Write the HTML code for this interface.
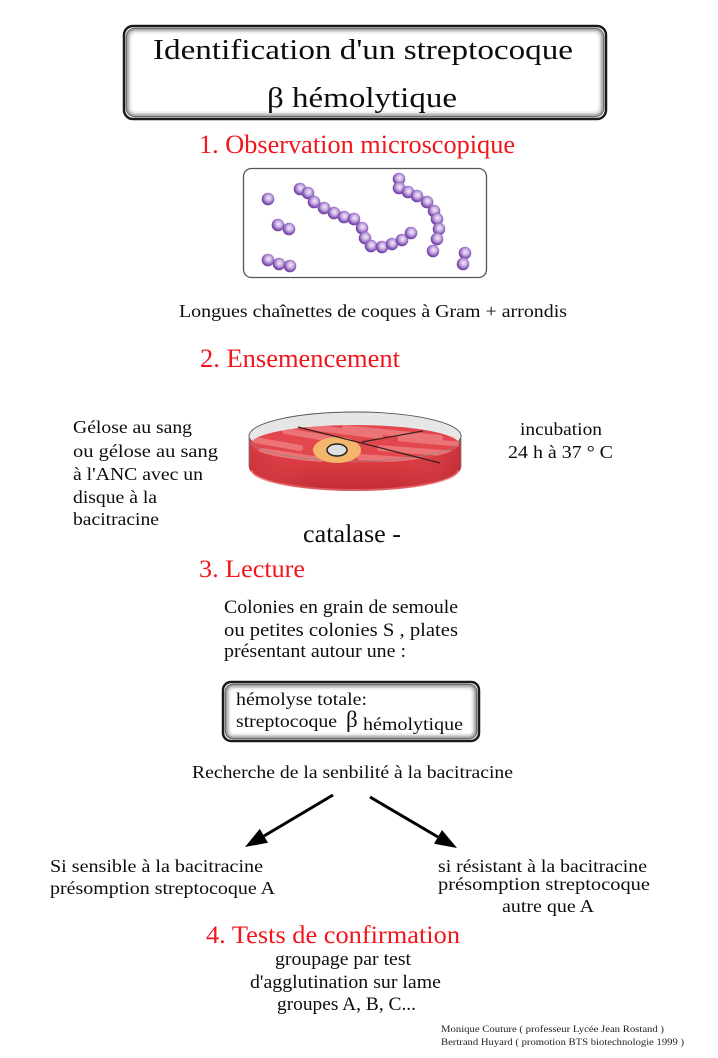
<!DOCTYPE html>
<html>
<head>
<meta charset="utf-8">
<style>
  html,body{margin:0;padding:0;background:#fff;}
  svg{display:block;}
  text{font-family:"Liberation Serif","DejaVu Serif",serif;}
</style>
</head>
<body>
<svg width="718" height="1058" viewBox="0 0 718 1058" xmlns="http://www.w3.org/2000/svg">
  <defs>
    <radialGradient id="coc" cx="55%" cy="42%" r="62%">
      <stop offset="0" stop-color="#f3ecf9"/>
      <stop offset="0.4" stop-color="#c8aee2"/>
      <stop offset="0.8" stop-color="#7c4bb0"/>
      <stop offset="1" stop-color="#5e3290"/>
    </radialGradient>
    <linearGradient id="dishSide" x1="0" y1="0" x2="0" y2="1">
      <stop offset="0" stop-color="#e0464c"/>
      <stop offset="0.5" stop-color="#d8383f"/>
      <stop offset="1" stop-color="#c22d35"/>
    </linearGradient>
    <linearGradient id="dishSideH" x1="0" y1="0" x2="1" y2="0">
      <stop offset="0" stop-color="#c8323a" stop-opacity="0.6"/>
      <stop offset="0.3" stop-color="#e85a5e" stop-opacity="0"/>
      <stop offset="0.7" stop-color="#e85a5e" stop-opacity="0"/>
      <stop offset="1" stop-color="#b82a32" stop-opacity="0.6"/>
    </linearGradient>
    <clipPath id="agarClip">
      <ellipse cx="355" cy="444" rx="104" ry="19"/>
    </clipPath>
  </defs>

  <!-- Title box -->
  <rect x="124" y="26" width="482" height="93" rx="9" ry="9" fill="#fff" stroke="#1a1a1a" stroke-width="2.5"/>
  <rect x="126.5" y="28.5" width="477" height="88" rx="8" ry="8" fill="none" stroke="#707070" stroke-width="1.5"/>
  <rect x="128" y="30" width="474" height="85" rx="7" ry="7" fill="none" stroke="#a8a8a8" stroke-width="1.5"/>
  <rect x="129.5" y="31.5" width="471" height="82" rx="6" ry="6" fill="none" stroke="#d4d4d4" stroke-width="1.5"/>
  <rect x="131" y="33" width="468" height="79" rx="5" ry="5" fill="none" stroke="#efefef" stroke-width="1.5"/>
  <text x="153" y="59" font-size="28" fill="#0d0d0d" textLength="420" lengthAdjust="spacingAndGlyphs">Identification d'un streptocoque</text>
  <text x="267" y="107" font-size="28" fill="#0d0d0d" textLength="190" lengthAdjust="spacingAndGlyphs">β hémolytique</text>

  <!-- 1. Observation -->
  <text x="199" y="153" font-size="26" fill="#f2161c" textLength="316" lengthAdjust="spacingAndGlyphs">1. Observation microscopique</text>

  <!-- microscope box -->
  <rect x="243.5" y="168.5" width="243" height="109" rx="8" ry="8" fill="#fff" stroke="#555" stroke-width="1.3"/>
  <g fill="url(#coc)">
    <circle cx="268" cy="199" r="6.3"/>
    <circle cx="278" cy="225" r="6.3"/>
    <circle cx="289" cy="229" r="6.3"/>
    <circle cx="268" cy="260" r="6.3"/>
    <circle cx="279" cy="264" r="6.3"/>
    <circle cx="290" cy="266" r="6.3"/>
    <circle cx="300" cy="189" r="6.3"/>
    <circle cx="308" cy="193" r="6.3"/>
    <circle cx="314" cy="202" r="6.3"/>
    <circle cx="324" cy="208" r="6.3"/>
    <circle cx="334" cy="213" r="6.3"/>
    <circle cx="344" cy="217" r="6.3"/>
    <circle cx="354" cy="219" r="6.3"/>
    <circle cx="362" cy="228" r="6.3"/>
    <circle cx="365" cy="238" r="6.3"/>
    <circle cx="371" cy="246" r="6.3"/>
    <circle cx="382" cy="247" r="6.3"/>
    <circle cx="392" cy="244" r="6.3"/>
    <circle cx="402" cy="240" r="6.3"/>
    <circle cx="411" cy="233" r="6.3"/>
    <circle cx="399" cy="179" r="6.3"/>
    <circle cx="399" cy="188" r="6.3"/>
    <circle cx="408" cy="192" r="6.3"/>
    <circle cx="417" cy="196" r="6.3"/>
    <circle cx="427" cy="202" r="6.3"/>
    <circle cx="434" cy="211" r="6.3"/>
    <circle cx="437" cy="219" r="6.3"/>
    <circle cx="439" cy="229" r="6.3"/>
    <circle cx="437" cy="239" r="6.3"/>
    <circle cx="433" cy="251" r="6.3"/>
    <circle cx="465" cy="253" r="6.3"/>
    <circle cx="463" cy="264" r="6.3"/>
  </g>

  <text x="179" y="317" font-size="18" fill="#0d0d0d" textLength="388" lengthAdjust="spacingAndGlyphs">Longues chaînettes de coques à Gram + arrondis</text>

  <!-- 2. Ensemencement -->
  <text x="200" y="367" font-size="26" fill="#f2161c" textLength="200" lengthAdjust="spacingAndGlyphs">2. Ensemencement</text>

  <!-- left text -->
  <g font-size="17.5" fill="#0d0d0d">
    <text x="73" y="433" textLength="119" lengthAdjust="spacingAndGlyphs">Gélose au sang</text>
    <text x="73" y="457" textLength="145" lengthAdjust="spacingAndGlyphs">ou gélose  au sang</text>
    <text x="73" y="480" textLength="130" lengthAdjust="spacingAndGlyphs">à l'ANC avec un</text>
    <text x="73" y="503" textLength="84" lengthAdjust="spacingAndGlyphs">disque à la</text>
    <text x="73" y="525" textLength="86" lengthAdjust="spacingAndGlyphs">bacitracine</text>
  </g>

  <!-- Petri dish -->
  <path d="M249,436 L249,467 A106,24 0 0 0 461,467 L461,436 Z" fill="url(#dishSide)"/>
  <path d="M249,436 L249,467 A106,24 0 0 0 461,467 L461,436 Z" fill="url(#dishSideH)"/>
  <path d="M252,470 A103,20 0 0 0 458,470" fill="none" stroke="#ef7a7c" stroke-width="2" opacity="0.6"/>
  <ellipse cx="355" cy="436" rx="106" ry="24" fill="#e6e6e6" stroke="#555" stroke-width="0.9"/>
  <ellipse cx="355" cy="444" rx="104" ry="19" fill="#e2474d"/>
  <g clip-path="url(#agarClip)" stroke="#f39393" stroke-linecap="round" opacity="0.6" fill="none">
    <line x1="255" y1="440" x2="300" y2="448" stroke-width="6"/>
    <line x1="262" y1="451" x2="320" y2="460" stroke-width="6"/>
    <line x1="285" y1="431" x2="350" y2="442" stroke-width="6"/>
    <line x1="310" y1="427" x2="380" y2="436" stroke-width="6"/>
    <line x1="345" y1="428" x2="440" y2="438" stroke-width="6"/>
    <line x1="380" y1="448" x2="455" y2="454" stroke-width="6"/>
    <line x1="360" y1="457" x2="420" y2="461" stroke-width="6"/>
    <line x1="400" y1="439" x2="458" y2="444" stroke-width="5"/>
    <line x1="268" y1="459" x2="300" y2="463" stroke-width="5"/>
  </g>
  <path d="M249,439 A106,22 0 0 0 461,439" fill="none" stroke="#8a8a8a" stroke-width="0.8" opacity="0.8"/>
  <ellipse cx="337" cy="450" rx="24" ry="13" fill="#f4b56c"/>
  <ellipse cx="337" cy="450" rx="10" ry="6" fill="#dedede" stroke="#222" stroke-width="1.5"/>
  <line x1="298" y1="427" x2="440" y2="463" stroke="#3a2020" stroke-width="1.2"/>
  <line x1="362" y1="442" x2="423" y2="431" stroke="#3a2020" stroke-width="1.2"/>
  <line x1="249" y1="436" x2="249" y2="467" stroke="#777" stroke-width="0.8"/>
  <line x1="461" y1="436" x2="461" y2="467" stroke="#777" stroke-width="0.8"/>

  <!-- incubation -->
  <text x="520" y="435" font-size="17.5" fill="#0d0d0d" textLength="82" lengthAdjust="spacingAndGlyphs">incubation</text>
  <text x="508" y="458" font-size="17.5" fill="#0d0d0d" textLength="105" lengthAdjust="spacingAndGlyphs">24 h à 37 ° C</text>

  <text x="303" y="542" font-size="25" fill="#0d0d0d" textLength="98" lengthAdjust="spacingAndGlyphs">catalase -</text>

  <!-- 3. Lecture -->
  <text x="199" y="577" font-size="25" fill="#f2161c" textLength="106" lengthAdjust="spacingAndGlyphs">3. Lecture</text>

  <g font-size="18.5" fill="#0d0d0d">
    <text x="224" y="613" textLength="234" lengthAdjust="spacingAndGlyphs">Colonies en grain de semoule</text>
    <text x="224" y="636" textLength="234" lengthAdjust="spacingAndGlyphs">ou petites colonies S , plates</text>
    <text x="224" y="657" textLength="182" lengthAdjust="spacingAndGlyphs">présentant autour une :</text>
  </g>

  <!-- box 2 -->
  <rect x="223" y="682" width="256" height="59" rx="8" ry="8" fill="#fff" stroke="#1a1a1a" stroke-width="2.5"/>
  <rect x="225.5" y="684.5" width="251" height="54" rx="7" ry="7" fill="none" stroke="#6c6c6c" stroke-width="1.5"/>
  <rect x="227" y="686" width="248" height="51" rx="6" ry="6" fill="none" stroke="#a4a4a4" stroke-width="1.5"/>
  <rect x="228.5" y="687.5" width="245" height="48" rx="5" ry="5" fill="none" stroke="#d0d0d0" stroke-width="1.5"/>
  <rect x="230" y="689" width="242" height="45" rx="4" ry="4" fill="none" stroke="#eeeeee" stroke-width="1.5"/>
  <text x="236" y="705" font-size="18" fill="#0d0d0d" textLength="131" lengthAdjust="spacingAndGlyphs">hémolyse totale:</text>
  <text x="236" y="727" font-size="18" fill="#0d0d0d" textLength="101" lengthAdjust="spacingAndGlyphs">streptocoque</text>
  <text x="346" y="727" font-size="23" fill="#0d0d0d">β</text>
  <text x="363" y="730" font-size="18" fill="#0d0d0d" textLength="100" lengthAdjust="spacingAndGlyphs">hémolytique</text>

  <text x="192" y="778" font-size="18" fill="#0d0d0d" textLength="321" lengthAdjust="spacingAndGlyphs">Recherche de la senbilité à la bacitracine</text>

  <!-- arrows -->
  <line x1="333" y1="795" x2="264" y2="836" stroke="#000" stroke-width="3"/>
  <polygon points="245,847 268,842.7 259.8,828.9" fill="#000"/>
  <line x1="370" y1="797" x2="438" y2="837" stroke="#000" stroke-width="3"/>
  <polygon points="457,848 434,843.8 442,830" fill="#000"/>

  <!-- results -->
  <g font-size="18" fill="#0d0d0d">
    <text x="50" y="872" textLength="213" lengthAdjust="spacingAndGlyphs">Si sensible à la bacitracine</text>
    <text x="50" y="894" textLength="225" lengthAdjust="spacingAndGlyphs">présomption streptocoque A</text>
    <text x="438" y="872" textLength="209" lengthAdjust="spacingAndGlyphs">si résistant à la bacitracine</text>
    <text x="438" y="890" textLength="212" lengthAdjust="spacingAndGlyphs">présomption  streptocoque</text>
    <text x="502" y="912" textLength="92" lengthAdjust="spacingAndGlyphs">autre que A</text>
  </g>

  <!-- 4. Tests -->
  <text x="206" y="943" font-size="25" fill="#f2161c" textLength="254" lengthAdjust="spacingAndGlyphs">4. Tests de confirmation</text>
  <g font-size="18.5" fill="#0d0d0d">
    <text x="275" y="965" textLength="136" lengthAdjust="spacingAndGlyphs">groupage par test</text>
    <text x="250" y="988" textLength="191" lengthAdjust="spacingAndGlyphs">d'agglutination sur lame</text>
    <text x="277" y="1010" textLength="139" lengthAdjust="spacingAndGlyphs">groupes A, B, C...</text>
  </g>

  <!-- credits -->
  <g font-size="9.5" fill="#222">
    <text x="441" y="1032" textLength="223" lengthAdjust="spacingAndGlyphs">Monique Couture ( professeur Lycée Jean Rostand )</text>
    <text x="441" y="1045" textLength="243" lengthAdjust="spacingAndGlyphs">Bertrand Huyard ( promotion BTS biotechnologie 1999 )</text>
  </g>
</svg>
</body>
</html>
